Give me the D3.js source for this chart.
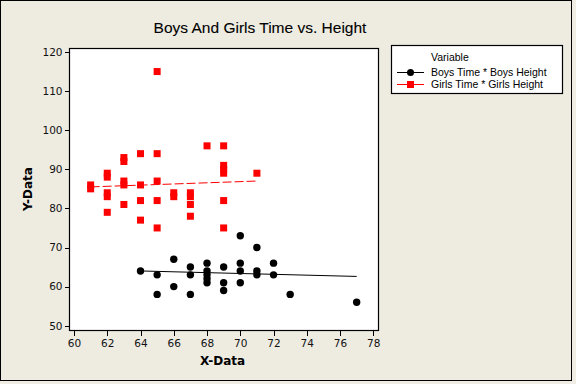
<!DOCTYPE html>
<html>
<head>
<meta charset="utf-8">
<script src="https://cdn.jsdelivr.net/npm/d3@7"></script>
<style>
  html, body { margin: 0; padding: 0; background: #f0ede4; }
  svg { display: block; }
</style>
</head>
<body>
<svg id="chart" width="576" height="384"></svg>
<script>
// ---- Data ----
const title = "Boys And Girls Time vs. Height";
const xLabel = "X-Data";
const yLabel = "Y-Data";
const xTicks = [60, 62, 64, 66, 68, 70, 72, 74, 76, 78];
const yTicks = [50, 60, 70, 80, 90, 100, 110, 120];

const boysX = [64, 65, 65, 66, 66, 67, 67, 67, 68, 68, 68, 68, 68, 69, 69, 69, 70, 70, 70, 70, 71, 71, 71, 72, 72, 73, 77];
const boysY = [64, 63, 58, 67, 60, 65, 63, 58, 66, 64, 63, 62, 61, 65, 61, 59, 73, 66, 64, 61, 70, 64, 63, 66, 63, 58, 56];

const girlsX = [61, 61, 62, 62, 62, 62, 62, 63, 63, 63, 63, 63, 64, 64, 64, 64, 65, 65, 65, 65, 65, 66, 66, 67, 67, 67, 67, 68, 69, 69, 69, 69, 69, 69, 71];
const girlsY = [86, 85, 89, 88, 84, 83, 79, 93, 92, 87, 86, 81, 94, 86, 82, 77, 115, 94, 87, 82, 75, 84, 83, 84, 83, 81, 78, 96, 96, 91, 90, 89, 82, 75, 89];

// fitted lines
const boysFitX = [64, 77];
const boysFitY = [64.0, 62.6];
const girlsFitX = [61, 71];
const girlsFitY = [85.5, 87.0];

const seriesNames = ["Boys Time * Boys Height", "Girls Time * Girls Height"];
const legendTitle = "Variable";

// ---- Drawing ----
const svg = d3.select("#chart");
const bg = "#eeebe1";

svg.append("rect").attr("x", 0).attr("y", 0).attr("width", 576).attr("height", 384).attr("fill", "#f0ede4");
svg.append("rect").attr("x", 0.5).attr("y", 0.5).attr("width", 571).attr("height", 380)
  .attr("fill", bg).attr("stroke", "#000").attr("stroke-width", 1);

const frame = { left: 69.5, top: 48.5, right: 378.5, bottom: 330.5 };

const x = d3.scaleLinear().domain([60, 78]).range([74, 373.3]);
const y = d3.scaleLinear().domain([50, 120]).range([325.7, 52]);

// plot area
svg.append("rect")
  .attr("x", frame.left).attr("y", frame.top)
  .attr("width", frame.right - frame.left).attr("height", frame.bottom - frame.top)
  .attr("fill", "#fff").attr("stroke", "#000").attr("stroke-width", 1.2);

// axes
const xAxis = d3.axisBottom(x).tickValues(xTicks).tickSize(5).tickSizeOuter(0);
const gx = svg.append("g").attr("transform", `translate(0,${frame.bottom})`).call(xAxis);
gx.select(".domain").remove();
gx.selectAll("text").attr("font-family", "DejaVu Sans").attr("font-size", 10.5).attr("fill", "#111").attr("dy", "0.85em");
gx.selectAll("line").attr("stroke", "#000").attr("shape-rendering", "crispEdges");

const yAxis = d3.axisLeft(y).tickValues(yTicks).tickSize(5).tickSizeOuter(0);
const gy = svg.append("g").attr("transform", `translate(${frame.left},0)`).call(yAxis);
gy.select(".domain").remove();
gy.selectAll("text").attr("font-family", "DejaVu Sans").attr("font-size", 10.5).attr("fill", "#111").attr("x", -7);
gy.selectAll("line").attr("stroke", "#000").attr("shape-rendering", "crispEdges");

// title & labels
svg.append("text").attr("x", 260).attr("y", 33).attr("text-anchor", "middle")
  .attr("font-family", "Liberation Sans").attr("font-size", 15.5).attr("fill", "#000")
  .attr("stroke", "#000").attr("stroke-width", 0.1).text(title);
svg.append("text").attr("x", 222.5).attr("y", 365).attr("text-anchor", "middle")
  .attr("font-family", "DejaVu Sans").attr("font-weight", "bold").attr("font-size", 12).attr("fill", "#000").text(xLabel);
svg.append("text").attr("transform", "translate(31.5,189) rotate(-90)").attr("text-anchor", "middle")
  .attr("font-family", "DejaVu Sans").attr("font-weight", "bold").attr("font-size", 12).attr("fill", "#000").text(yLabel);

// fit lines
const line = d3.line().x(d => x(d[0])).y(d => y(d[1]));
svg.append("path").datum(d3.zip(girlsFitX, girlsFitY)).attr("d", line)
  .attr("fill", "none").attr("stroke", "#ff0000").attr("stroke-width", 1).attr("stroke-dasharray", "9,3");
svg.append("path").datum(d3.zip(boysFitX, boysFitY)).attr("d", line)
  .attr("fill", "none").attr("stroke", "#000").attr("stroke-width", 1);

// points
const sq = 7;
svg.append("g").selectAll("rect").data(d3.zip(girlsX, girlsY)).join("rect")
  .attr("x", d => x(d[0]) - sq / 2).attr("y", d => y(d[1]) - sq / 2)
  .attr("width", sq).attr("height", sq).attr("fill", "#ff0000");
svg.append("g").selectAll("circle").data(d3.zip(boysX, boysY)).join("circle")
  .attr("cx", d => x(d[0])).attr("cy", d => y(d[1])).attr("r", 3.7).attr("fill", "#000");

// legend
const lg = svg.append("g");
lg.append("rect").attr("x", 391.5).attr("y", 45.5).attr("width", 171).attr("height", 48)
  .attr("fill", "#fff").attr("stroke", "#000").attr("stroke-width", 1.2);
lg.append("text").attr("x", 431).attr("y", 60.5).attr("font-family", "Liberation Sans").attr("font-size", 10.5).text(legendTitle);
const legY = [72.5, 84.5];
const legColors = ["#000", "#ff0000"];
seriesNames.forEach((name, i) => {
  lg.append("line").attr("x1", 397).attr("x2", 424).attr("y1", legY[i]).attr("y2", legY[i])
    .attr("stroke", legColors[i]).attr("stroke-width", 1);
  if (i === 0) {
    lg.append("circle").attr("cx", 410.5).attr("cy", legY[i]).attr("r", 3.5).attr("fill", "#000");
  } else {
    lg.append("rect").attr("x", 410.5 - 3.5).attr("y", legY[i] - 3.5).attr("width", 7).attr("height", 7).attr("fill", "#ff0000");
  }
  lg.append("text").attr("x", 431).attr("y", legY[i] + 3.5).attr("font-family", "Liberation Sans").attr("font-size", 10.5).text(name);
});
</script>
</body>
</html>
